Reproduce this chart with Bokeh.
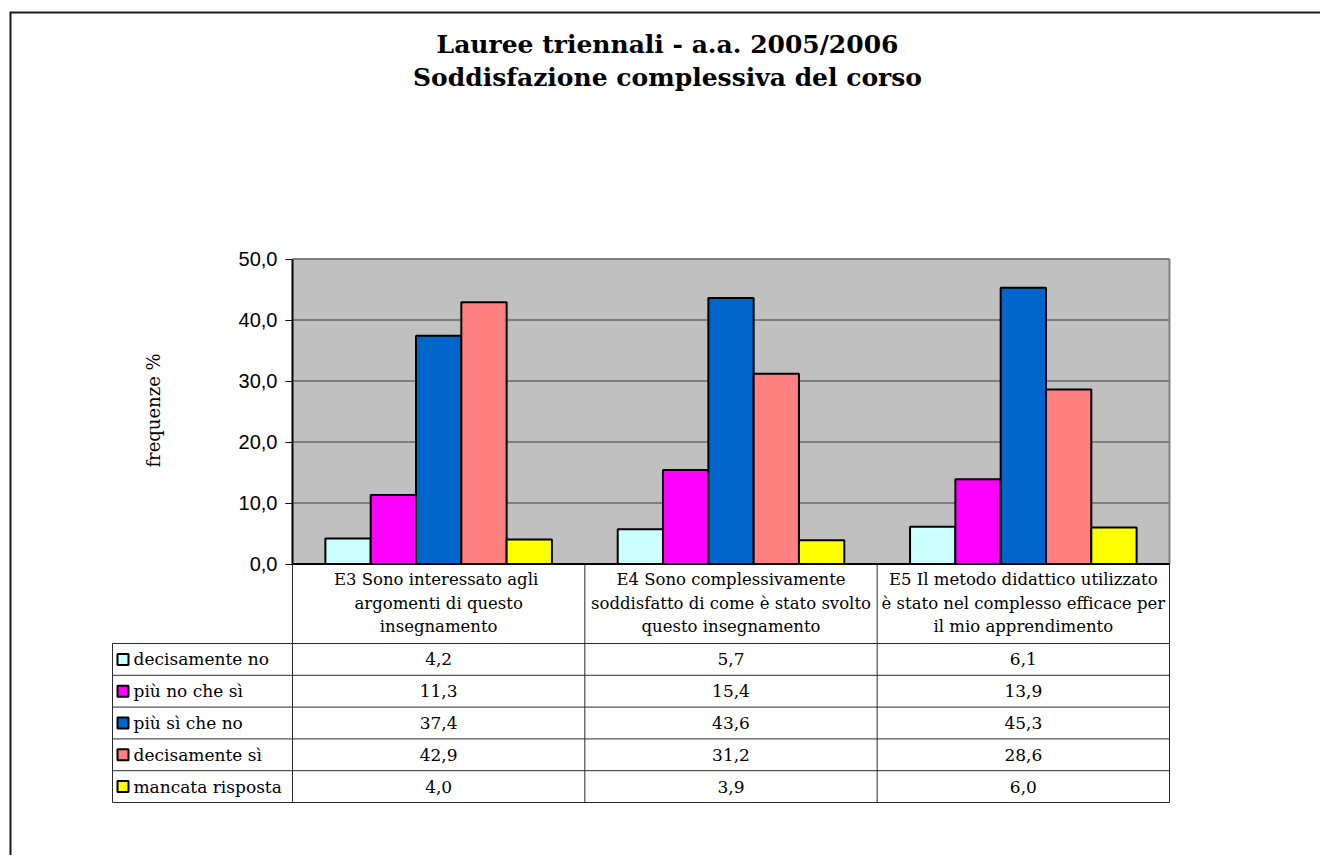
import numpy as np
from bokeh.plotting import figure
from bokeh.models import Range1d, LinearAxis, FixedTicker, CustomJSTickFormatter, ColumnDataSource
from bokeh.core.properties import value
from bokeh.embed import file_html
from bokeh.resources import INLINE

# ---------------- data ----------------
title_lines = ["Lauree triennali - a.a. 2005/2006", "Soddisfazione complessiva del corso"]
y_label = "frequenze %"
categories = [
    ["E3  Sono interessato agli", "argomenti di questo", "insegnamento"],
    ["E4 Sono complessivamente", "soddisfatto di come è stato svolto", "questo insegnamento"],
    ["E5 Il metodo didattico utilizzato", "è stato nel complesso efficace per", "il mio apprendimento"],
]
series = ["decisamente no", "più no che sì", "più sì che no", "decisamente sì", "mancata risposta"]
colors = ["#CCFFFF", "#FF00FF", "#0066CC", "#FF8080", "#FFFF00"]
decisamente_no = [4.2, 5.7, 6.1]
piu_no_che_si = [11.3, 15.4, 13.9]
piu_si_che_no = [37.4, 43.6, 45.3]
decisamente_si = [42.9, 31.2, 28.6]
mancata_risposta = [4.0, 3.9, 6.0]
values = [decisamente_no, piu_no_che_si, piu_si_che_no, decisamente_si, mancata_risposta]
y_ticks = [0, 10, 20, 30, 40, 50]

# ---------------- layout (page pixels) ----------------
W, H = 1320, 855
OX, OY = 0, 0
AX_L, AX_R = 292.0, 1169.0
Y_TOP, Y_ZERO = 258.5, 563.5
YMAX = 50.0
SX = (AX_R - AX_L) / 3.0
SY = (Y_ZERO - Y_TOP) / YMAX

def dx(px):
    return -0.5 + (px - AX_L) / SX

def dy(py):
    return (Y_ZERO - py) / SY

SERIF = value("DejaVu Serif")

p = figure(width=W, height=H,
           x_range=Range1d(dx(OX), dx(OX + W)),
           y_range=Range1d(dy(OY + H), dy(OY)),
           output_backend="svg", toolbar_location=None,
           x_axis_type=None, y_axis_type=None, min_border=0)
p.title.visible = False
p.outline_line_color = None
p.background_fill_color = "white"
p.border_fill_color = "white"

n_groups = len(categories)
x_left = -0.5
x_right = n_groups - 0.5

# outer chart frame (left and top edges visible)
p.segment(x0=[dx(10), dx(9)], y0=[dy(12), dy(12)], x1=[dx(10), dx(OX + W + 20)], y1=[dy(OY + H + 20), dy(12)],
          line_color="#1a1a1a", line_width=2)

# plot area background
p.quad(left=[x_left], right=[x_right], bottom=[0], top=[YMAX], fill_color="#C0C0C0", line_color=None)
grid_y = [t for t in y_ticks if 0 < t < YMAX]
p.segment(x0=[x_left] * len(grid_y), y0=grid_y, x1=[x_right] * len(grid_y), y1=grid_y,
          line_color="#3c3c3c", line_width=1)
p.segment(x0=[x_left, x_right], y0=[YMAX, 0], x1=[x_right, x_right], y1=[YMAX, YMAX],
          line_color="#808080", line_width=2)

# bars
bw = 0.155
groups = np.arange(n_groups)
for i, (name, vals, col) in enumerate(zip(series, values, colors)):
    src = ColumnDataSource(dict(x=groups + (i - 2) * bw, top=vals))
    p.vbar(x="x", top="top", bottom=0, width=bw, source=src,
           fill_color=col, line_color="black", line_width=2)

# y axis at the plot-area edge
yax = LinearAxis(fixed_location=x_left, bounds=(0, YMAX), ticker=FixedTicker(ticks=y_ticks),
                 formatter=CustomJSTickFormatter(code="return tick.toFixed(1).replace('.', ',')"))
yax.axis_line_color = "black"
yax.axis_line_width = 2
yax.major_tick_line_color = "black"
yax.major_tick_line_width = 1
yax.major_tick_out = 7
yax.major_tick_in = 0
yax.minor_tick_out = 0
yax.minor_tick_in = 0
yax.major_label_standoff = 8
yax.major_label_text_font = "Liberation Sans"
yax.major_label_text_font_size = "20px"
yax.major_label_text_color = "black"
p.add_layout(yax, "left")

# title
p.text(x=[dx(667)] * 2, y=[dy(44), dy(77)], text=title_lines, text_font=SERIF,
       text_font_style="bold", text_font_size="25px", text_align="center",
       text_baseline="middle", text_color="black")

# y axis title
p.text(x=[dx(153)], y=[dy(410)], text=[y_label], angle=np.pi / 2, text_font=SERIF,
       text_font_size="18px", text_align="center", text_baseline="middle", text_color="black")

# ---------------- data table ----------------
TBL_L = 112.0
HDR_BOT = 643.0
ROW_H = 31.8
n_rows = len(series)
row_lines = [HDR_BOT + k * ROW_H for k in range(n_rows + 1)]
TBL_B = row_lines[-1]
col_lines = [x_left + g for g in range(n_groups + 1)]

# horizontal table lines
p.segment(x0=[dx(TBL_L)] * len(row_lines), y0=[dy(r) for r in row_lines],
          x1=[x_right] * len(row_lines), y1=[dy(r) for r in row_lines],
          line_color="#2a2a2a", line_width=1)
# vertical table lines
p.segment(x0=col_lines, y0=[0] * len(col_lines), x1=col_lines, y1=[dy(TBL_B)] * len(col_lines),
          line_color="#2a2a2a", line_width=1)
p.segment(x0=[dx(TBL_L)], y0=[dy(HDR_BOT)], x1=[dx(TBL_L)], y1=[dy(TBL_B)],
          line_color="#2a2a2a", line_width=1)
# category axis line
p.segment(x0=[x_left], y0=[0], x1=[x_right], y1=[0], line_color="black", line_width=2)

# header (category labels)
hx, hy, ht = [], [], []
for g, lines in enumerate(categories):
    for k, ln in enumerate(lines):
        hx.append(g)
        hy.append(dy(579 + k * 23.5))
        ht.append(ln)
p.text(x=hx, y=hy, text=ht, text_font=SERIF, text_font_size="16.5px", text_align="center",
       text_baseline="middle", text_color="black")

# rows: legend keys, names and values
row_centers = [dy(HDR_BOT + (k + 0.5) * ROW_H) for k in range(n_rows)]
p.scatter(x=[dx(122.5)] * n_rows, y=row_centers, marker="square", size=11,
          fill_color=colors, line_color="black", line_width=2)
p.text(x=[dx(133)] * n_rows, y=row_centers, text=series, text_font=SERIF, text_font_size="17px",
       text_align="left", text_baseline="middle", text_color="black")
vx, vy, vt = [], [], []
for k, vals in enumerate(values):
    for g, v in enumerate(vals):
        vx.append(g)
        vy.append(row_centers[k])
        vt.append(f"{v:.1f}".replace(".", ","))
p.text(x=vx, y=vy, text=vt, text_font=SERIF, text_font_size="17px", text_align="center",
       text_baseline="middle", text_color="black")

open("out.html", "w").write(file_html(p, INLINE))
